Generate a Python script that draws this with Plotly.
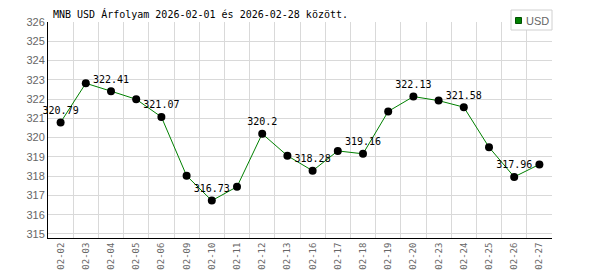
import plotly.graph_objects as go

dates = ["02-02", "02-03", "02-04", "02-05", "02-06", "02-09", "02-10", "02-11", "02-12", "02-13",
         "02-16", "02-17", "02-18", "02-19", "02-20", "02-23", "02-24", "02-25", "02-26", "02-27"]
usd = [320.79, 322.82, 322.41, 321.99, 321.07, 318.02, 316.73, 317.45, 320.20, 319.06,
       318.28, 319.31, 319.16, 321.36, 322.13, 321.92, 321.58, 319.50, 317.96, 318.61]
y_ticks = list(range(315, 327))
title_text = "MNB USD Árfolyam 2026-02-01 és 2026-02-28 között."
legend_name = "USD"

labels = [f"{v:g}" if i % 2 == 0 else "" for i, v in enumerate(usd)]

W, H = 600, 270
L, R, T, B = 48, 48, 22, 32
pw, ph = W - L - R, H - T - B

def px_x(x):
    return (x - L) / pw

def px_y(y):
    return (H - B - y) / ph

fig = go.Figure()
fig.add_trace(go.Scatter(
    x=dates, y=usd, mode="lines+markers+text",
    line=dict(color="#008000", width=1),
    marker=dict(color="#000000", size=8),
    text=labels, textposition="top center",
    textfont=dict(family="DejaVu Sans Mono", size=10, color="#000000"),
    showlegend=False, cliponaxis=False,
))

mono = "DejaVu Sans Mono"
fig.update_layout(
    width=W, height=H,
    margin=dict(l=L, r=R, t=T, b=B),
    paper_bgcolor="white", plot_bgcolor="white",
    showlegend=False,
    title=dict(text=title_text, x=px_x(53), xref="paper", xanchor="left",
               y=1 - 14 / H, yanchor="middle",
               font=dict(family=mono, size=10, color="#000000")),
)

fig.update_xaxes(
    type="category", range=[-0.5, len(dates) - 0.5], autorange=False,
    tickson="boundaries", tickangle=-90,
    showgrid=True, gridcolor="#d9d9d9", gridwidth=1,
    showline=True, linecolor="#000000", linewidth=1,
    ticks="", ticklabelstandoff=0,
    tickfont=dict(family=mono, size=9, color="#666666"),
    zeroline=False, fixedrange=True, automargin=False,
)
fig.update_yaxes(
    range=[314.79, 326], autorange=False, tickvals=y_ticks,
    showgrid=True, gridcolor="#d9d9d9", gridwidth=1,
    showline=True, linecolor="#000000", linewidth=1,
    ticks="", tickfont=dict(family="Liberation Sans", size=11, color="#666666"),
    zeroline=False, fixedrange=True, automargin=False,
)

# legend box
fig.add_shape(type="rect", xref="paper", yref="paper",
              x0=px_x(511), x1=px_x(552), y0=px_y(30), y1=px_y(10),
              line=dict(color="#d0d0d0", width=1), fillcolor="white", layer="above")
fig.add_shape(type="rect", xref="paper", yref="paper",
              x0=px_x(515.5), x1=px_x(521.5), y0=px_y(23.5), y1=px_y(17.5),
              line=dict(color="#005000", width=1), fillcolor="#008000", layer="above")
fig.add_annotation(text=legend_name, xref="paper", yref="paper",
                   x=px_x(523.5), y=px_y(20.5), xanchor="left", yanchor="middle",
                   showarrow=False,
                   font=dict(family="Liberation Sans", size=11, color="#666666"))

fig.write_html("out.html")
